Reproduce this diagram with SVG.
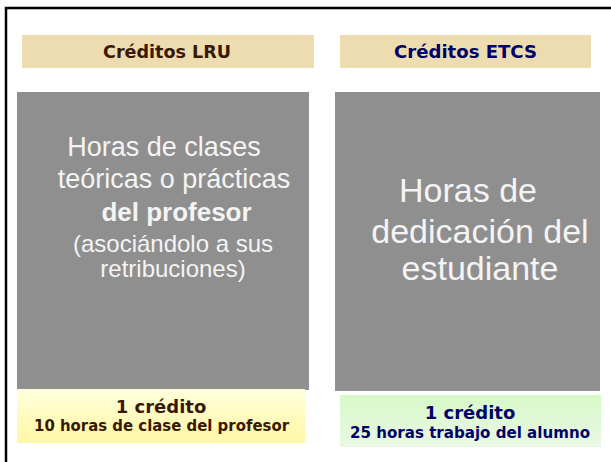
<svg xmlns="http://www.w3.org/2000/svg" width="611" height="462" viewBox="0 0 611 462">
  <defs>
    <linearGradient id="gYellow" x1="0" y1="0" x2="0" y2="1">
      <stop offset="0" stop-color="#FFFFDC"/>
      <stop offset="1" stop-color="#FFF7A4"/>
    </linearGradient>
    <linearGradient id="gGreen" x1="0" y1="0" x2="0" y2="1">
      <stop offset="0" stop-color="#D6F9C8"/>
      <stop offset="1" stop-color="#EAF8E4"/>
    </linearGradient>
  </defs>
  <style>
    .hdr { fill: #EDDCB0; }
    .hdrtxt { font-family: "DejaVu Sans", "Liberation Sans", sans-serif; font-weight: bold; font-size: 18px; text-anchor: middle; }
    .panel { fill: #8F8F8F; }
    .ptxt { font-family: "Liberation Sans", Arial, sans-serif; fill: #F4F4F4; text-anchor: middle; }
    .btxt { font-family: "DejaVu Sans", "Liberation Sans", sans-serif; font-weight: bold; text-anchor: middle; }
    .brown { fill: #3A1800; }
    .navy { fill: #000066; }
  </style>
  <rect x="0" y="0" width="611" height="462" fill="#FFFFFF"/>
  <rect x="6" y="8" width="640" height="500" fill="none" stroke="#000000" stroke-width="2.5"/>

  <g id="header-lru">
    <rect class="hdr" x="22" y="35" width="292" height="33"/>
    <text class="hdrtxt brown" x="167" y="58" textLength="128" lengthAdjust="spacingAndGlyphs">Créditos LRU</text>
  </g>
  <g id="header-etcs">
    <rect class="hdr" x="340" y="35" width="251" height="33"/>
    <text class="hdrtxt navy" x="465.5" y="58" textLength="143" lengthAdjust="spacingAndGlyphs">Créditos ETCS</text>
  </g>

  <g id="panel-lru">
    <rect class="panel" x="17" y="92" width="292" height="298"/>
    <text class="ptxt" x="164" y="156" font-size="27">Horas de clases</text>
    <text class="ptxt" x="174" y="188" font-size="27">teóricas o prácticas</text>
    <text class="ptxt" x="176.5" y="221" font-size="26" font-weight="bold">del profesor</text>
    <text class="ptxt" x="173" y="252" font-size="24">(asociándolo a sus</text>
    <text class="ptxt" x="173" y="277" font-size="24">retribuciones)</text>
  </g>
  <g id="panel-etcs">
    <rect class="panel" x="335" y="92" width="265" height="299"/>
    <text class="ptxt" x="468" y="202" font-size="34">Horas de</text>
    <text class="ptxt" x="480" y="243" font-size="34">dedicación del</text>
    <text class="ptxt" x="480" y="280" font-size="34">estudiante</text>
  </g>

  <g id="credit-lru">
    <rect x="17" y="389" width="288" height="54" fill="url(#gYellow)"/>
    <text class="btxt brown" x="161" y="413" font-size="18">1 crédito</text>
    <text class="btxt brown" x="161.5" y="431" font-size="15" textLength="255" lengthAdjust="spacingAndGlyphs">10 horas de clase del profesor</text>
  </g>
  <g id="credit-etcs">
    <rect x="340" y="395" width="261" height="52" fill="url(#gGreen)"/>
    <text class="btxt navy" x="470" y="419" font-size="18">1 crédito</text>
    <text class="btxt navy" x="470" y="438" font-size="15" textLength="240" lengthAdjust="spacingAndGlyphs">25 horas trabajo del alumno</text>
  </g>

  <g id="connectors"/>
</svg>
